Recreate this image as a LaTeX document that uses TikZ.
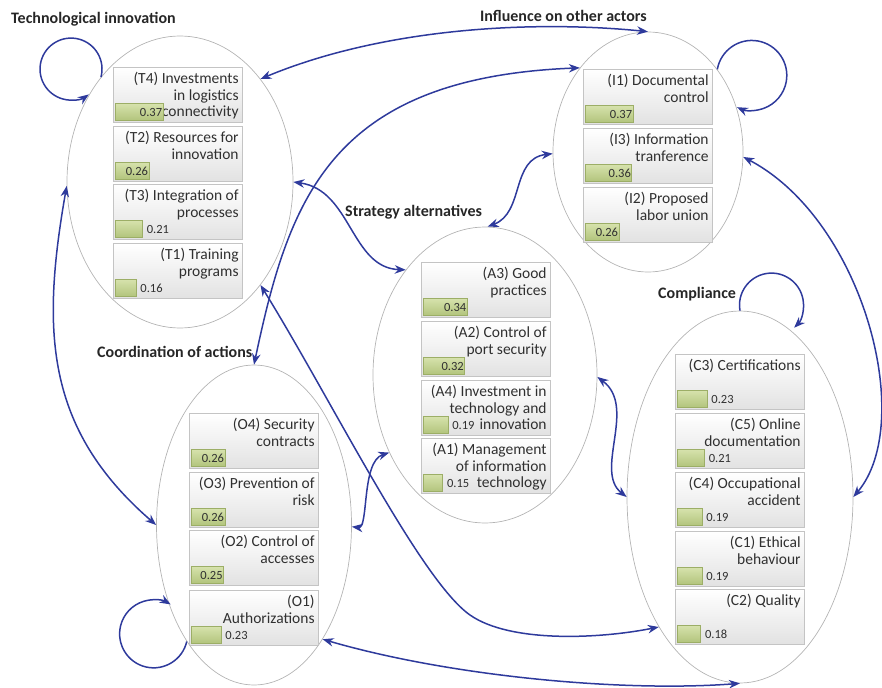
\documentclass[tikz,border=0pt]{standalone}
\usepackage{fontspec}
\setmainfont{Carlito}
\usetikzlibrary{shapes.geometric}
\usetikzlibrary{arrows.meta}
\usetikzlibrary{calc}
\definecolor{linkblue}{HTML}{2E3A9C}
\definecolor{ringgray}{HTML}{B4B4B4}
\definecolor{boxline}{HTML}{C4C4C4}
\definecolor{boxlow}{HTML}{E2E2E2}
\definecolor{bartop}{HTML}{D6E2AC}
\definecolor{barlow}{HTML}{B2C47C}
\definecolor{barline}{HTML}{9CAE66}
\definecolor{inktext}{HTML}{303030}
\tikzset{>={Stealth[length=11pt,width=8.5pt]}}
\tikzset{ring/.style={draw=ringgray, line width=0.7pt, ellipse, inner sep=0pt}}
\tikzset{grouptitle/.style={font=\fontsize{16}{18}\selectfont\bfseries, text=black!85, anchor=west, inner sep=0pt}}
\tikzset{factbox/.style={draw=boxline, line width=0.8pt, top color=white, bottom color=boxlow, minimum width=129pt, minimum height=55pt, inner sep=0pt, anchor=north west}}
\tikzset{facttext/.style={align=right, inner sep=0pt, anchor=north east, text=inktext, font=\fontsize{15.5}{16.7}\selectfont}}
\tikzset{factbar/.style={draw=barline, line width=0.6pt, top color=bartop, bottom color=barlow, minimum height=17pt, inner sep=0pt, anchor=south west}}
\tikzset{factval/.style={inner sep=0pt, text=inktext, font=\fontsize{12.5}{14}\selectfont}}
\tikzset{valin/.style={anchor=east, xshift=-1pt}}
\tikzset{valout/.style={anchor=west, xshift=4pt}}
\tikzset{linkarrow/.style={draw=linkblue, line width=1.5pt}}

% one factor: name, x, top y, text, value, value placement
\newcommand{\factor}[6]{%
  \node[factbox] (#1) at (#2,#3) {};
  \node[facttext] (#1t) at ([xshift=-4pt,yshift=-5pt]#1.north east) {#4};
  \node[factbar, minimum width=#5*129pt] (#1b) at ([xshift=2pt,yshift=2pt]#1.south west) {};
  \node[factval, #6] (#1v) at (#1b.east) {#5};
}

\begin{document}
\begin{tikzpicture}[x=1pt,y=1pt]
    \useasboundingbox (0,0) rectangle (882,-687);

    % groups
    \node[ring, minimum width=226pt, minimum height=292pt] (T) at (180,-182) {};
    \node[ring, minimum width=190pt, minimum height=240pt] (I) at (648,-152) {};
    \node[ring, minimum width=224pt, minimum height=296pt] (A) at (485,-375) {};
    \node[ring, minimum width=195pt, minimum height=320pt] (O) at (254,-525) {};
    \node[ring, minimum width=226pt, minimum height=372pt] (C) at (740,-497) {};

    \node[grouptitle] (Tlab) at (11,-19) {Technological innovation};
    \node[grouptitle] (Ilab) at (480,-16) {Influence on other actors};
    \node[grouptitle] (Alab) at (345,-212) {Strategy alternatives};
    \node[grouptitle] (Olab) at (97,-352) {Coordination of actions};
    \node[grouptitle] (Clab) at (658,-294) {Compliance};

    % factors
    \factor{T4}{113}{-67}{(T4) Investments\\in logistics\\connectivity}{0.37}{valin}
    \factor{T2}{113}{-126}{(T2) Resources for\\innovation}{0.26}{valin}
    \factor{T3}{113}{-184}{(T3) Integration of\\processes}{0.21}{valout}
    \factor{T1}{113}{-243}{(T1) Training\\programs}{0.16}{valout}

    \factor{I1}{583}{-69}{(I1) Documental\\control}{0.37}{valin}
    \factor{I3}{583}{-128}{(I3) Information\\tranference}{0.36}{valin}
    \factor{I2}{583}{-187}{(I2) Proposed\\labor union}{0.26}{valin}

    \factor{A3}{421}{-262}{(A3) Good\\practices}{0.34}{valin}
    \factor{A2}{421}{-321}{(A2) Control of\\port security}{0.32}{valin}
    \factor{A4}{421}{-380}{(A4) Investment in\\technology and\\innovation}{0.19}{valout}
    \factor{A1}{421}{-438}{(A1) Management\\of information\\technology}{0.15}{valout}

    \factor{O4}{189}{-413}{(O4) Security\\contracts}{0.26}{valin}
    \factor{O3}{189}{-472}{(O3) Prevention of\\risk}{0.26}{valin}
    \factor{O2}{189}{-530}{(O2) Control of\\accesses}{0.25}{valin}
    \factor{O1}{189}{-590}{(O1)\\Authorizations}{0.23}{valout}

    \factor{C3}{675}{-354}{(C3) Certifications}{0.23}{valout}
    \factor{C5}{675}{-413}{(C5) Online\\documentation}{0.21}{valout}
    \factor{C4}{675}{-472}{(C4) Occupational\\accident}{0.19}{valout}
    \factor{C1}{675}{-531}{(C1) Ethical\\behaviour}{0.19}{valout}
    \factor{C2}{675}{-589}{(C2) Quality}{0.18}{valout}

    % links
    \draw[linkarrow,->] (T.127.6) arc[start angle=-15, end angle=305, radius=31];
    \draw[linkarrow,->] (I.50.7) arc[start angle=170, end angle=-115, radius=35];
    \draw[linkarrow,->] (C.90) arc[start angle=190, end angle=-45, radius=32];
    \draw[linkarrow,->] (O.240) arc[start angle=-13, end angle=-300, radius=34];

    \draw[linkarrow,<->] (T.52.9) .. controls +(120,50) and +(-120,12) .. (I.90);
    \draw[linkarrow,<->] (O.90) .. controls +(35,165) and +(-250,-10) .. (I.129.7);
    \draw[linkarrow,<->] (T.0) .. controls +(58,-8) and +(-55,2) .. (A.127.8);
    \coordinate (bend) at (470,-615);
    \draw[linkarrow,<->] (T.-52.7) .. controls +(70,-113) and +(-50,35) .. (bend)
      .. controls +(40,-28) and +(-60,-12) .. (C.238.6);
    \draw[linkarrow,<->] (O.-1) .. controls +(17,-2) and +(-28,-9) .. (A.219.4);
    \draw[linkarrow,<->] (A.-1) .. controls +(40,-30) and +(-33,26) .. (C.180);
    \draw[linkarrow,<->] (A.89) .. controls +(37,14) and +(-42,-5) .. (I.181.8);
    \draw[linkarrow,<->] (I.-3) .. controls +(120,-63) and +(63,75) .. (C.0);
    \draw[linkarrow,<->] (O.-59.7) .. controls +(127,-37) and +(-118,-9) .. (C.270);
    \draw[linkarrow,<->] (T.182.5) .. controls +(-25,-143) and +(-112,97) .. (O.180);
\end{tikzpicture}
\end{document}
